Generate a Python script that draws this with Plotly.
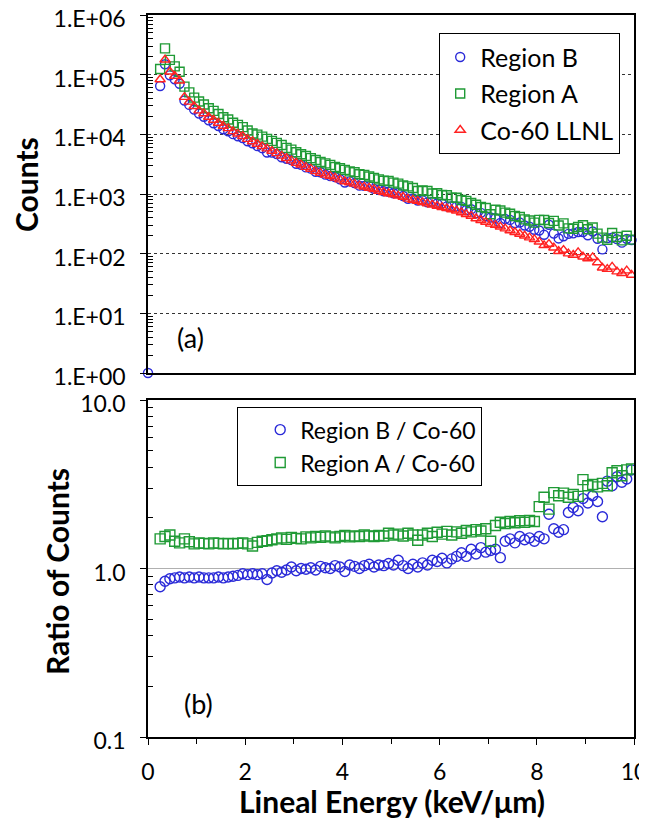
import plotly.graph_objects as go

# ---------------- data ----------------
lineal_energy = [0.25, 0.35, 0.45, 0.55, 0.65, 0.75, 0.85, 0.95,
                 1.05, 1.15, 1.25, 1.35, 1.45, 1.55, 1.65, 1.75, 1.85, 1.95,
                 2.05, 2.15, 2.25, 2.35, 2.45, 2.55, 2.65, 2.75, 2.85, 2.95,
                 3.05, 3.15, 3.25, 3.35, 3.45, 3.55, 3.65, 3.75, 3.85, 3.95,
                 4.05, 4.15, 4.25, 4.35, 4.45, 4.55, 4.65, 4.75, 4.85, 4.95,
                 5.05, 5.15, 5.25, 5.35, 5.45, 5.55, 5.65, 5.75, 5.85, 5.95,
                 6.05, 6.15, 6.25, 6.35, 6.45, 6.55, 6.65, 6.75, 6.85, 6.95,
                 7.05, 7.15, 7.25, 7.35, 7.45, 7.55, 7.65, 7.75, 7.85, 7.95,
                 8.05, 8.15, 8.25, 8.35, 8.45, 8.55, 8.65, 8.75, 8.85, 8.95,
                 9.05, 9.15, 9.25, 9.35, 9.45, 9.55, 9.65, 9.75, 9.85, 9.95]

# extra Region B point at zero energy
region_b_zero_energy = [0.0]
region_b_zero_count = [1]

region_b_counts = [64700, 149500, 97400, 83600, 70300, 36960, 31150, 25960, 22250, 19710,
                   17160, 15310, 13800, 12140, 11210, 10080, 9280, 8650, 7640, 7070,
                   6350, 5860, 4950, 4940, 4660, 4130, 3900, 3700, 3210, 3090,
                   2790, 2660, 2350, 2310, 2110, 2000, 1930, 1770, 1560, 1630,
                   1520, 1380, 1370, 1340, 1220, 1180, 1110, 1090, 1030, 1040,
                   926, 830, 843, 775, 783, 725, 739, 693, 690, 621,
                   627, 620, 608, 539, 555, 475, 483, 424, 404, 393,
                   327, 381, 368, 325, 332, 296, 283, 252, 245, 207,
                   305, 217, 180, 196, 215, 219, 231, 231, 203, 235,
                   178, 118, 182, 186, 175, 153, 177, 169]

region_a_counts = [124500, 276000, 177000, 137750, 112200, 63000, 50400, 41300, 35500, 31580,
                   27300, 24710, 21860, 19320, 17770, 15680, 14380, 13210, 11620, 10340,
                   9870, 9140, 8400, 7770, 7200, 6610, 5930, 5550, 5000, 4640,
                   4340, 4000, 3720, 3430, 3260, 3080, 2830, 2700, 2540, 2390,
                   2310, 2140, 2090, 1970, 1860, 1760, 1670, 1650, 1550, 1490,
                   1390, 1340, 1260, 1120, 1150, 1120, 1020, 1030, 960, 955,
                   869, 866, 794, 768, 705, 661, 606, 583, 458, 544,
                   530, 487, 466, 428, 411, 376, 359, 331, 368, 366,
                   326, 355, 297, 322, 265, 261, 281, 300, 257, 274,
                   217, 186, 171, 222, 190, 167, 200, 172]

co60_counts = [83000, 178000, 112000, 95000, 79000, 42000, 35000, 29500, 25000, 22400,
               19500, 17400, 15500, 13800, 12600, 11200, 10200, 9300, 8300, 7600,
               6900, 6300, 5750, 5250, 4800, 4350, 3980, 3630, 3310, 3090,
               2820, 2630, 2400, 2240, 2090, 2000, 1860, 1740, 1620, 1550,
               1480, 1380, 1320, 1260, 1200, 1120, 1070, 1020, 980, 930,
               890, 830, 795, 760, 725, 690, 660, 630, 600, 575,
               550, 525, 490, 457, 427, 389, 363, 339, 316, 302,
               282, 263, 245, 229, 214, 200, 186, 174, 158, 138,
               145, 126, 110, 115, 100, 95, 105, 89, 83, 87,
               71, 58, 55, 60, 50, 47, 52, 44]

ratio_b_co60 = [0.78, 0.84, 0.87, 0.88, 0.89, 0.88, 0.89, 0.88, 0.89, 0.88,
                0.88, 0.88, 0.89, 0.88, 0.89, 0.90, 0.91, 0.93, 0.92, 0.93,
                0.92, 0.93, 0.86, 0.94, 0.97, 0.95, 0.98, 1.02, 0.97, 1.00,
                0.99, 1.01, 0.98, 1.03, 1.01, 1.00, 1.04, 1.02, 0.96, 1.05,
                1.03, 1.00, 1.04, 1.06, 1.02, 1.05, 1.04, 1.07, 1.05, 1.12,
                1.04, 1.00, 1.06, 1.02, 1.08, 1.05, 1.12, 1.10, 1.15, 1.08,
                1.14, 1.18, 1.24, 1.18, 1.30, 1.22, 1.33, 1.25, 1.28, 1.30,
                1.16, 1.45, 1.50, 1.42, 1.55, 1.48, 1.52, 1.45, 1.55, 1.50,
                2.10, 1.72, 1.64, 1.70, 2.15, 2.30, 2.20, 2.60, 2.45, 2.70,
                2.50, 2.03, 3.30, 3.10, 3.50, 3.25, 3.40, 3.85]

ratio_a_co60 = [1.50, 1.55, 1.58, 1.45, 1.42, 1.50, 1.44, 1.40, 1.42, 1.41,
                1.40, 1.42, 1.41, 1.40, 1.41, 1.40, 1.41, 1.42, 1.40, 1.36,
                1.43, 1.45, 1.46, 1.48, 1.50, 1.52, 1.49, 1.53, 1.51, 1.50,
                1.54, 1.52, 1.55, 1.53, 1.56, 1.54, 1.52, 1.55, 1.57, 1.54,
                1.56, 1.55, 1.58, 1.56, 1.55, 1.57, 1.56, 1.62, 1.58, 1.60,
                1.56, 1.62, 1.58, 1.47, 1.58, 1.62, 1.55, 1.64, 1.60, 1.66,
                1.58, 1.65, 1.62, 1.68, 1.65, 1.70, 1.67, 1.72, 1.45, 1.80,
                1.88, 1.85, 1.90, 1.87, 1.92, 1.88, 1.93, 1.90, 2.33, 2.65,
                2.25, 2.82, 2.70, 2.80, 2.65, 2.75, 2.68, 3.37, 3.10, 3.15,
                3.05, 3.20, 3.10, 3.70, 3.80, 3.55, 3.85, 3.90]

counts_tickvals = [1, 10, 100, 1000, 10000, 100000, 1000000]
counts_ticktext = ["1.E+00", "1.E+01", "1.E+02", "1.E+03", "1.E+04", "1.E+05", "1.E+06"]
ratio_tickvals = [0.1, 1, 10]
ratio_ticktext = ["0.1", "1.0", "10.0"]
energy_tickvals = [0, 2, 4, 6, 8, 10]
energy_minor_tickvals = [1, 3, 5, 7, 9]
log_minor_digits = [2, 3, 4, 5, 6, 7, 8, 9]

# ---------------- style ----------------
BLUE = "#2a2ad8"
GREEN = "#1f9a35"
RED = "#ff2222"
FONT = "Lato"
MS = 9
LW = 1.4

counts_minor = [d * 10 ** e for e in range(0, 6) for d in log_minor_digits]
ratio_minor = [d * 10.0 ** e for e in (-1, 0) for d in log_minor_digits]

fig = go.Figure()

# top panel (x / y)
fig.add_trace(go.Scatter(x=region_b_zero_energy + lineal_energy,
                         y=region_b_zero_count + region_b_counts,
                         mode="markers", name="Region B", legendgroup="b",
                         marker=dict(symbol="circle-open", size=MS, color=BLUE, line=dict(width=LW)),
                         cliponaxis=False, xaxis="x", yaxis="y", legend="legend"))
fig.add_trace(go.Scatter(x=lineal_energy, y=region_a_counts,
                         mode="markers", name="Region A", legendgroup="a",
                         marker=dict(symbol="square-open", size=MS, color=GREEN, line=dict(width=LW)),
                         xaxis="x", yaxis="y", legend="legend"))
fig.add_trace(go.Scatter(x=lineal_energy, y=co60_counts,
                         mode="markers", name="Co-60 LLNL", legendgroup="c",
                         marker=dict(symbol="triangle-up-open", size=MS, color=RED, line=dict(width=LW)),
                         xaxis="x", yaxis="y", legend="legend"))

# bottom panel (x2 / y2)
fig.add_trace(go.Scatter(x=lineal_energy, y=ratio_b_co60,
                         mode="markers", name="Region B / Co-60", legendgroup="rb",
                         marker=dict(symbol="circle-open", size=MS + 1, color=BLUE, line=dict(width=LW)),
                         xaxis="x2", yaxis="y2", legend="legend2"))
fig.add_trace(go.Scatter(x=lineal_energy, y=ratio_a_co60,
                         mode="markers", name="Region A / Co-60", legendgroup="ra",
                         marker=dict(symbol="square-open", size=MS + 1, color=GREEN, line=dict(width=LW)),
                         xaxis="x2", yaxis="y2", legend="legend2"))

# geometry: page body has an 8px margin, so the figure is 8px smaller
OFF = 8
W, H = 647 - OFF, 822 - OFF
L, R, T, B = 148 - OFF, 13, 15 - OFF, 85
ph = H - T - B
pw = W - L - R
top_dom = [(H - B - (373 - OFF)) / ph, 1]
bot_dom = [0, (H - B - (400 - OFF)) / ph]


def px_x(px):
    return (px - OFF - L) / pw


def px_y(py):
    return (H - B - (py - OFF)) / ph


axis_common = dict(showline=True, linecolor="black", linewidth=1.5, mirror=True,
                   zeroline=False, automargin=False, ticklabeloverflow="allow",
                   tickfont=dict(family=FONT, size=23, color="black"))

fig.update_layout(
    width=W, height=H,
    margin=dict(l=L, r=R, t=T, b=B, autoexpand=False),
    paper_bgcolor="white", plot_bgcolor="white",
    font=dict(family=FONT, color="black"),
    xaxis=dict(domain=[0, 1], range=[0, 10], anchor="y", showticklabels=False,
               ticks="", showgrid=False, **axis_common),
    yaxis=dict(domain=top_dom, type="log", range=[0, 6], anchor="x",
               tickvals=counts_tickvals, ticktext=counts_ticktext,
               ticks="outside", ticklen=6, tickwidth=1.2, tickcolor="black",
               ticklabelstandoff=10, ticklabelshift=4,
               showgrid=True, gridcolor="#333333", griddash="dot", gridwidth=1.2,
               minor=dict(tickvals=counts_minor, ticks="inside", ticklen=5,
                          tickcolor="black", tickwidth=1, showgrid=False),
               **axis_common),
    xaxis2=dict(domain=[0, 1], range=[0, 10], anchor="y2",
                tickvals=energy_tickvals, ticks="outside", ticklen=6, tickwidth=1.2,
                tickcolor="black", ticklabelstandoff=8, showgrid=False,
                minor=dict(tickvals=energy_minor_tickvals, ticks="outside", ticklen=5,
                           tickcolor="black", tickwidth=1),
                **axis_common),
    yaxis2=dict(domain=bot_dom, type="log", range=[-1, 1], anchor="x2",
                tickvals=ratio_tickvals, ticktext=ratio_ticktext,
                ticks="outside", ticklen=6, tickwidth=1.2, tickcolor="black",
                ticklabelstandoff=10, ticklabelshift=4,
                showgrid=True, gridcolor="#b0b0b0", gridwidth=1.2,
                minor=dict(tickvals=ratio_minor, ticks="inside", ticklen=5,
                           tickcolor="black", tickwidth=1, showgrid=False),
                **axis_common),
    legend=dict(x=px_x(439), y=px_y(33), xanchor="left", yanchor="top",
                bgcolor="white", bordercolor="black", borderwidth=1.2,
                font=dict(family=FONT, size=25, color="black"),
                tracegroupgap=1, traceorder="grouped", itemsizing="trace"),
    legend2=dict(x=px_x(237), y=px_y(407), xanchor="left", yanchor="top",
                 bgcolor="white", bordercolor="black", borderwidth=1.2,
                 font=dict(family=FONT, size=23, color="black"),
                 tracegroupgap=0, traceorder="grouped", itemsizing="trace",
                 indentation=22, entrywidth=224, entrywidthmode="pixels"),
    showlegend=True,
)

annotations = [
    dict(text="(a)", x=px_x(190), y=px_y(338)),
    dict(text="(b)", x=px_x(198), y=px_y(703)),
    dict(text="<b>Counts</b>", x=px_x(26), y=px_y(184), textangle=-90),
    dict(text="<b>Ratio of Counts</b>", x=px_x(57), y=px_y(572), textangle=-90),
    dict(text="<b>Lineal Energy (keV/\u03bcm)</b>", x=px_x(392), y=px_y(801)),
]
for a in annotations:
    a.update(xref="paper", yref="paper", xanchor="center", yanchor="middle", showarrow=False,
             font=dict(family=FONT, size=27 if a["text"].startswith("(") else 30, color="black"))
fig.update_layout(annotations=annotations)

fig.write_html("out.html")
